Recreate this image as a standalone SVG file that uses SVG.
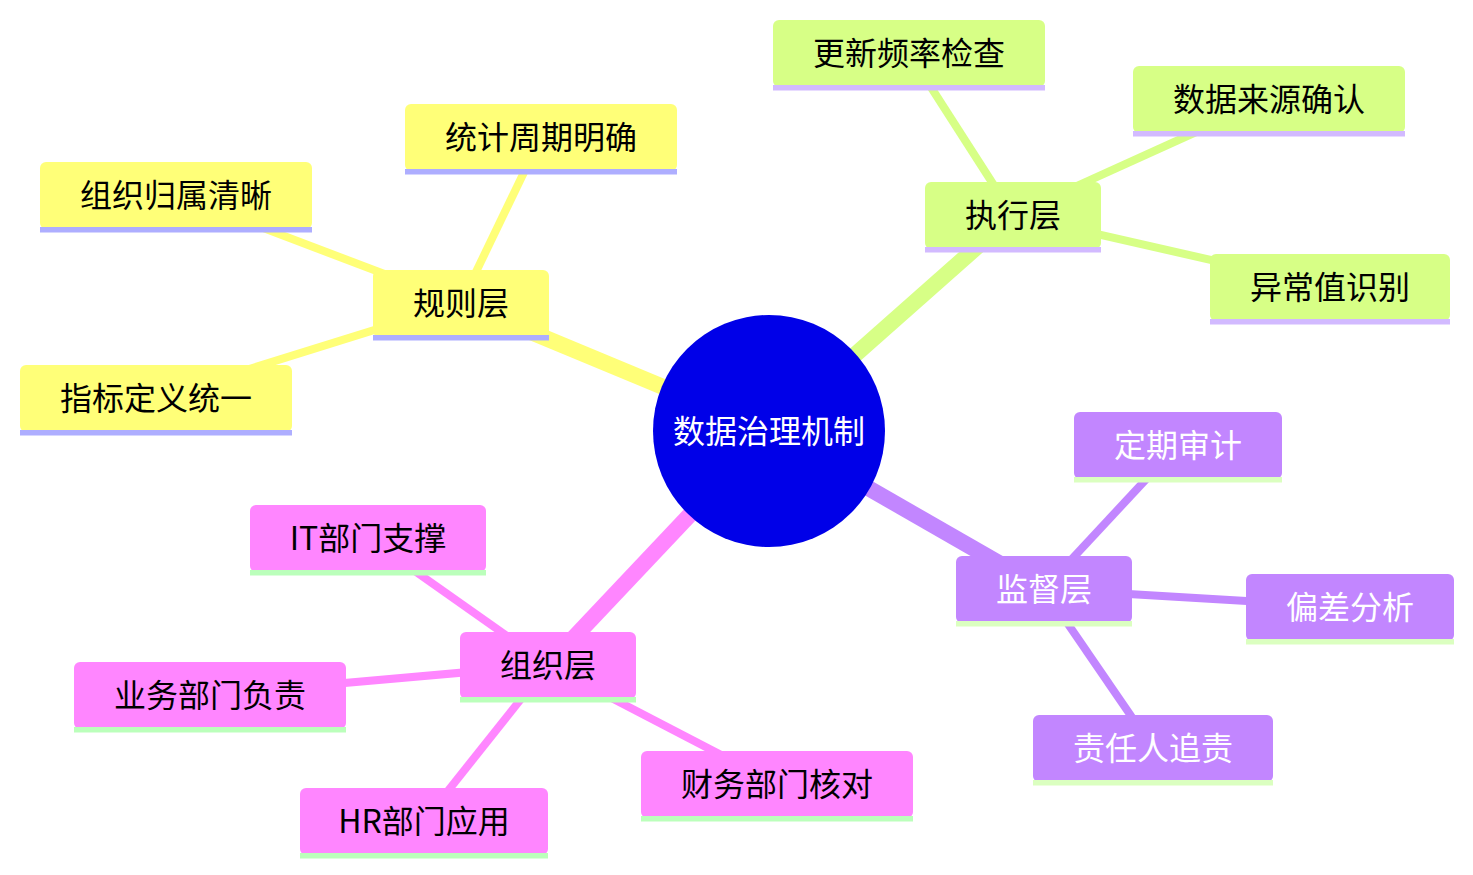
<svg xmlns="http://www.w3.org/2000/svg" width="1473" height="875" viewBox="0 0 1473 875">
<style>
text{font-family:"Noto Sans CJK SC","Noto Sans",sans-serif;font-size:32px;text-anchor:middle}
.e0{stroke-width:16;stroke-linecap:butt;fill:none}
.e1{stroke-width:8;stroke-linecap:butt;fill:none}
.s1{fill:#ffff78}.s1l{fill:#aeaeff}.s1e{stroke:#ffff78}
.s2{fill:#d7ff86}.s2l{fill:#d2baff}.s2e{stroke:#d7ff86}
.s3{fill:#c286ff}.s3l{fill:#dbffc0}.s3e{stroke:#c286ff}
.s4{fill:#ff86ff}.s4l{fill:#bbffbb}.s4e{stroke:#ff86ff}
.dark{fill:#000}.light{fill:#fff}
</style>
<rect width="1473" height="875" fill="#fff"/>
<g id="connectors">
<line class="e0 s1e" x1="769" y1="431" x2="461" y2="303"/>
<line class="e0 s2e" x1="769" y1="431" x2="1013" y2="215"/>
<line class="e0 s3e" x1="769" y1="431" x2="1044" y2="589"/>
<line class="e0 s4e" x1="769" y1="431" x2="548" y2="665"/>
<line class="e1 s1e" x1="461" y1="303" x2="541" y2="137"/>
<line class="e1 s1e" x1="461" y1="303" x2="176" y2="195"/>
<line class="e1 s1e" x1="461" y1="303" x2="156" y2="398"/>
<line class="e1 s2e" x1="1013" y1="215" x2="909" y2="53"/>
<line class="e1 s2e" x1="1013" y1="215" x2="1269" y2="99"/>
<line class="e1 s2e" x1="1013" y1="215" x2="1330" y2="287"/>
<line class="e1 s3e" x1="1044" y1="589" x2="1178" y2="445"/>
<line class="e1 s3e" x1="1044" y1="589" x2="1350" y2="607"/>
<line class="e1 s3e" x1="1044" y1="589" x2="1153" y2="748"/>
<line class="e1 s4e" x1="548" y1="665" x2="368" y2="538"/>
<line class="e1 s4e" x1="548" y1="665" x2="210" y2="695"/>
<line class="e1 s4e" x1="548" y1="665" x2="424" y2="821"/>
<line class="e1 s4e" x1="548" y1="665" x2="777" y2="784"/>
</g>
<g id="root">
<circle cx="769" cy="431" r="116" fill="#0000e8"/>
<text class="light" x="769" y="443">数据治理机制</text>
</g>
<g id="n-rule">
<rect class="s1" x="373" y="270" width="176" height="67" rx="6"/><rect class="s1l" x="373" y="335" width="176" height="5.5"/>
<text class="dark" x="461" y="315">规则层</text>
</g>
<g id="n-rule-1">
<rect class="s1" x="405" y="104" width="272" height="67" rx="6"/><rect class="s1l" x="405" y="169" width="272" height="5.5"/>
<text class="dark" x="541" y="149">统计周期明确</text>
</g>
<g id="n-rule-2">
<rect class="s1" x="40" y="162" width="272" height="67" rx="6"/><rect class="s1l" x="40" y="227" width="272" height="5.5"/>
<text class="dark" x="176" y="207">组织归属清晰</text>
</g>
<g id="n-rule-3">
<rect class="s1" x="20" y="365" width="272" height="67" rx="6"/><rect class="s1l" x="20" y="430" width="272" height="5.5"/>
<text class="dark" x="156" y="410">指标定义统一</text>
</g>
<g id="n-exec">
<rect class="s2" x="925" y="182" width="176" height="67" rx="6"/><rect class="s2l" x="925" y="247" width="176" height="5.5"/>
<text class="dark" x="1013" y="227">执行层</text>
</g>
<g id="n-exec-1">
<rect class="s2" x="773" y="20" width="272" height="67" rx="6"/><rect class="s2l" x="773" y="85" width="272" height="5.5"/>
<text class="dark" x="909" y="65">更新频率检查</text>
</g>
<g id="n-exec-2">
<rect class="s2" x="1133" y="66" width="272" height="67" rx="6"/><rect class="s2l" x="1133" y="131" width="272" height="5.5"/>
<text class="dark" x="1269" y="111">数据来源确认</text>
</g>
<g id="n-exec-3">
<rect class="s2" x="1210" y="254" width="240" height="67" rx="6"/><rect class="s2l" x="1210" y="319" width="240" height="5.5"/>
<text class="dark" x="1330" y="299">异常值识别</text>
</g>
<g id="n-sup">
<rect class="s3" x="956" y="556" width="176" height="67" rx="6"/><rect class="s3l" x="956" y="621" width="176" height="5.5"/>
<text class="light" x="1044" y="601">监督层</text>
</g>
<g id="n-sup-1">
<rect class="s3" x="1074" y="412" width="208" height="67" rx="6"/><rect class="s3l" x="1074" y="477" width="208" height="5.5"/>
<text class="light" x="1178" y="457">定期审计</text>
</g>
<g id="n-sup-2">
<rect class="s3" x="1246" y="574" width="208" height="67" rx="6"/><rect class="s3l" x="1246" y="639" width="208" height="5.5"/>
<text class="light" x="1350" y="619">偏差分析</text>
</g>
<g id="n-sup-3">
<rect class="s3" x="1033" y="715" width="240" height="67" rx="6"/><rect class="s3l" x="1033" y="780" width="240" height="5.5"/>
<text class="light" x="1153" y="760">责任人追责</text>
</g>
<g id="n-org">
<rect class="s4" x="460" y="632" width="176" height="67" rx="6"/><rect class="s4l" x="460" y="697" width="176" height="5.5"/>
<text class="dark" x="548" y="677">组织层</text>
</g>
<g id="n-org-1">
<rect class="s4" x="250" y="505" width="236" height="67" rx="6"/><rect class="s4l" x="250" y="570" width="236" height="5.5"/>
<text class="dark" x="368" y="550">IT部门支撑</text>
</g>
<g id="n-org-2">
<rect class="s4" x="74" y="662" width="272" height="67" rx="6"/><rect class="s4l" x="74" y="727" width="272" height="5.5"/>
<text class="dark" x="210" y="707">业务部门负责</text>
</g>
<g id="n-org-3">
<rect class="s4" x="300" y="788" width="248" height="67" rx="6"/><rect class="s4l" x="300" y="853" width="248" height="5.5"/>
<text class="dark" x="424" y="833">HR部门应用</text>
</g>
<g id="n-org-4">
<rect class="s4" x="641" y="751" width="272" height="67" rx="6"/><rect class="s4l" x="641" y="816" width="272" height="5.5"/>
<text class="dark" x="777" y="796">财务部门核对</text>
</g>
</svg>
